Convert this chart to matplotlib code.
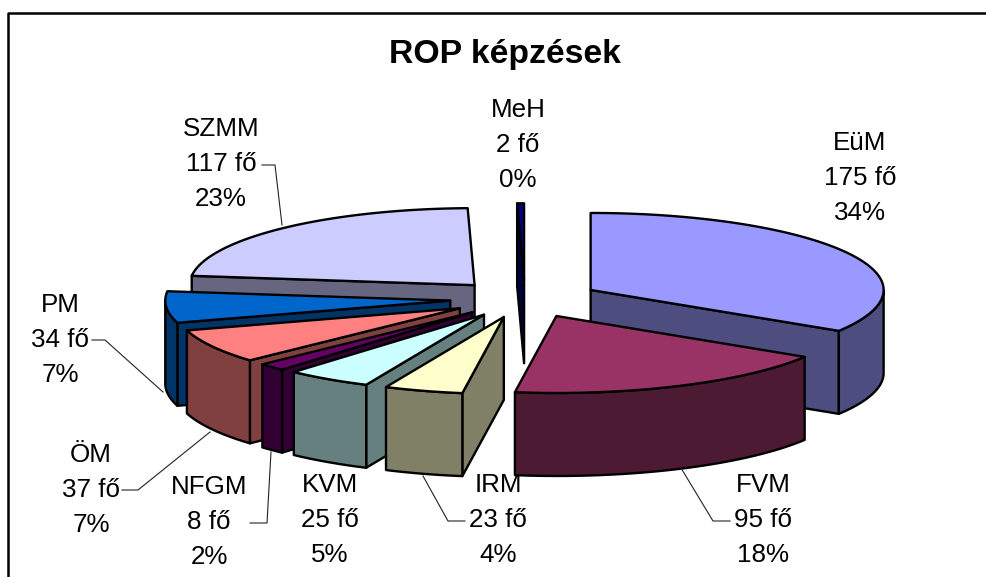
"""ROP kepzesek: exploded 3D-look pie, drawn by hand from the headcounts."""
import numpy as np
import matplotlib
matplotlib.use("Agg")
import matplotlib.pyplot as plt
from matplotlib.patches import Polygon

plt.rcParams["font.family"] = ["Liberation Sans", "DejaVu Sans"]

NAMES = ["EüM", "FVM", "IRM", "KVM", "NFGM", "ÖM", "PM", "SZMM", "MeH"]
COUNTS = [175, 95, 23, 25, 8, 37, 34, 117, 2]
PERCENTS = [34, 18, 4, 5, 2, 7, 7, 23, 0]
TOP_COLORS = ["#9999FF", "#993366", "#FFFFCC", "#CCFFFF", "#660066",
              "#FF8080", "#0066CC", "#CCCCFF", "#000080"]
WALL_COLORS = ["#4D4D80", "#4D1A33", "#808066", "#668080", "#330033",
               "#804040", "#003366", "#666680", "#000040"]

# label centres (pixels)
LABEL_POS = [(860, 178), (763, 520), (498, 520), (330, 520), (209, 522),
             (91, 490), (60, 340), (221, 164), (518, 145)]
LEADERS = {
    "SZMM": [(262, 165), (275, 165), (282, 225)],
    "PM": [(92, 340), (105, 340), (163, 392)],
    "ÖM": [(122, 490), (138, 490), (210, 432)],
    "NFGM": [(250, 523), (267, 523), (271, 452)],
    "IRM": [(465, 521), (448, 521), (423, 476)],
    "FVM": [(730, 521), (713, 521), (681, 468)],
}

CX, CY = 525, 299
RX_RIGHT, RX_LEFT, RY = 293, 285, 77
EX, EY = 75, 18.7
DEPTH = 83


def rim(theta, apex):
    rx = RX_RIGHT if np.sin(theta) >= 0 else RX_LEFT
    return apex[0] + rx * np.sin(theta), apex[1] - RY * np.cos(theta)


def arc(a, b, apex):
    n = max(2, int(np.degrees(b - a)) + 2)
    return [rim(t, apex) for t in np.linspace(a, b, n)]


def down(pts):
    return [(x, y + DEPTH) for x, y in pts]


def draw_slice(ax, a, b, apex, top, wall):
    kw = dict(edgecolor="black", linewidth=1.7, joinstyle="round")
    # radial side walls, only the ones facing the viewer
    if np.sin(a) < 0:
        edge = [apex, rim(a, apex)]
        ax.add_patch(Polygon(edge + down(edge)[::-1], facecolor=wall, **kw))
    if np.sin(b) > 0:
        edge = [apex, rim(b, apex)]
        ax.add_patch(Polygon(edge + down(edge)[::-1], facecolor=wall, **kw))
    # outer wall, front half of the rim
    lo, hi = max(a, np.pi / 2), min(b, 3 * np.pi / 2)
    if hi > lo:
        pts = arc(lo, hi, apex)
        ax.add_patch(Polygon(pts + down(pts)[::-1], facecolor=wall, **kw))
    ax.add_patch(Polygon([apex] + arc(a, b, apex), facecolor=top, **kw))


fig = plt.figure(figsize=(9.86, 5.77), dpi=100)
ax = fig.add_axes([0, 0, 1, 1])
ax.set_xlim(0, 986)
ax.set_ylim(577, 0)
ax.axis("off")

counts = np.array(COUNTS, dtype=float)
edges = np.concatenate([[0], np.cumsum(counts)]) / counts.sum() * 2 * np.pi
mids = (edges[:-1] + edges[1:]) / 2
apexes = [(CX + EX * np.sin(m), CY - EY * np.cos(m)) for m in mids]

# back to front
for i in np.argsort([p[1] for p in apexes]):
    draw_slice(ax, edges[i], edges[i + 1], apexes[i], TOP_COLORS[i], WALL_COLORS[i])

for name, pts in LEADERS.items():
    xs, ys = zip(*pts)
    ax.plot(xs, ys, color="#222222", lw=0.8)

for name, n, pct, (x, y) in zip(NAMES, COUNTS, PERCENTS, LABEL_POS):
    ax.text(x, y, f"{name}\n{n} fő\n{pct}%", ha="center", va="center",
            fontsize=18.7, linespacing=1.59, color="black")

ax.text(505, 55, "ROP képzések", ha="center", va="center",
        fontsize=24.3, fontweight="bold", color="black")

ax.plot([8, 8, 986], [577, 13, 13], color="black", lw=1.8)

fig.savefig("out.png", dpi=100)
